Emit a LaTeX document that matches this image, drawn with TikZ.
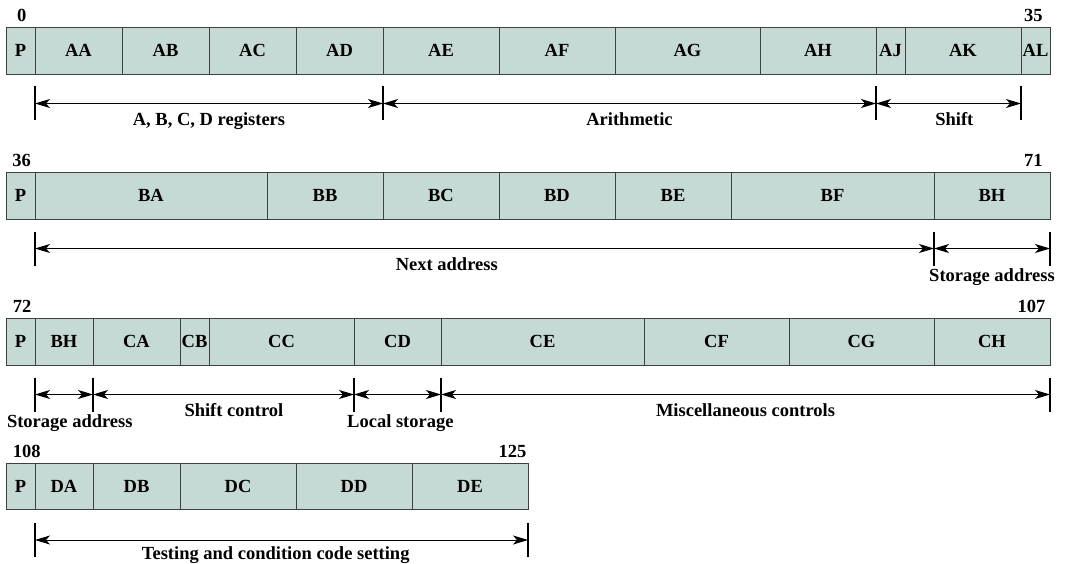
\documentclass[tikz,border=0pt]{standalone}
\usepackage{fontspec}
\setmainfont{Liberation Serif}
\usetikzlibrary{arrows.meta}
\definecolor{fieldfill}{RGB}{197,217,213}
\newcommand{\wordfont}{\fontsize{18.5}{21}\selectfont\bfseries}

\begin{document}
\begin{tikzpicture}[x=29pt, y=-1pt,
    >={Stealth[length=15pt,width=9pt,inset=4pt]},
    field/.style={draw=black!75, line width=0.9pt, fill=fieldfill, inner sep=0pt,
        minimum height=46.5pt, font=\wordfont},
    bitnum/.style={inner sep=0pt, font=\wordfont},
    tickmark/.style={line width=1.7pt},
    span/.style={line width=0.9pt, <->},
    spanlabel/.style={anchor=base, inner sep=0pt, font=\wordfont}]
    \useasboundingbox (-0.2069,0) rectangle (36.5862,564);

    % Word 1: bits 0--35
    \foreach \s/\w/\n in {0/1/P, 1/3/AA, 4/3/AB, 7/3/AC, 10/3/AD, 13/4/AE,
                          17/4/AF, 21/5/AG, 26/4/AH, 30/1/AJ, 31/4/AK, 35/1/AL}
        \node[field, minimum width=\w*29pt] (w1\n) at (\s+\w/2, 50.75) {\n};
    \node[bitnum, anchor=base] (n0) at (0.54, 21.5) {0};
    \node[bitnum, anchor=base east] (n35) at (35.75, 21.5) {35};
    \foreach \b [count=\i] in {1,13,30,35}
        \coordinate (d1-\i) at (\b, 103.5);
    \foreach \i in {1,...,4}
        \draw[tickmark] ([yshift=17pt]d1-\i) -- ([yshift=-17pt]d1-\i);
    \draw[span] (d1-1) -- (d1-2);
    \draw[span] (d1-2) -- (d1-3);
    \draw[span] (d1-3) -- (d1-4);
    \node[spanlabel] (regs) at (7, 125.5) {A, B, C, D registers};
    \node[spanlabel] (arith) at (21.5, 125.5) {Arithmetic};
    \node[spanlabel] (shift) at (32.7, 125.5) {Shift};

    % Word 2: bits 36--71
    \foreach \s/\w/\n in {0/1/P, 1/8/BA, 9/4/BB, 13/4/BC, 17/4/BD, 21/4/BE,
                          25/7/BF, 32/4/BH}
        \node[field, minimum width=\w*29pt] (w2\n) at (\s+\w/2, 195.75) {\n};
    \node[bitnum, anchor=base west] (n36) at (0.21, 166.5) {36};
    \node[bitnum, anchor=base east] (n71) at (35.75, 166.5) {71};
    \foreach \b [count=\i] in {1,32,36}
        \coordinate (d2-\i) at (\b, 248.5);
    \foreach \i in {1,...,3}
        \draw[tickmark] ([yshift=17pt]d2-\i) -- ([yshift=-17pt]d2-\i);
    \draw[span] (d2-1) -- (d2-2);
    \draw[span] (d2-2) -- (d2-3);
    \node[spanlabel] (next) at (15.2, 270.5) {Next address};
    \node[spanlabel] (store1) at (34, 281.5) {Storage address};

    % Word 3: bits 72--107
    \foreach \s/\w/\n in {0/1/P, 1/2/BH, 3/3/CA, 6/1/CB, 7/5/CC, 12/3/CD,
                          15/7/CE, 22/5/CF, 27/5/CG, 32/4/CH}
        \node[field, minimum width=\w*29pt] (w3\n) at (\s+\w/2, 341.75) {\n};
    \node[bitnum, anchor=base west] (n72) at (0.23, 312.5) {72};
    \node[bitnum, anchor=base east] (n107) at (35.85, 312.5) {107};
    \foreach \b [count=\i] in {1,3,12,15,36}
        \coordinate (d3-\i) at (\b, 394.5);
    \foreach \i in {1,...,5}
        \draw[tickmark] ([yshift=17pt]d3-\i) -- ([yshift=-17pt]d3-\i);
    \draw[span] (d3-1) -- (d3-2);
    \draw[span] (d3-2) -- (d3-3);
    \draw[span] (d3-3) -- (d3-4);
    \draw[span] (d3-4) -- (d3-5);
    \node[spanlabel] (store2) at (2.2, 427.5) {Storage address};
    \node[spanlabel] (shiftctl) at (7.86, 416.5) {Shift control};
    \node[spanlabel] (local) at (13.6, 427.5) {Local storage};
    \node[spanlabel] (misc) at (25.5, 416.5) {Miscellaneous controls};

    % Word 4: bits 108--125
    \foreach \s/\w/\n in {0/1/P, 1/2/DA, 3/3/DB, 6/4/DC, 10/4/DD, 14/4/DE}
        \node[field, minimum width=\w*29pt] (w4\n) at (\s+\w/2, 486.25) {\n};
    \node[bitnum, anchor=base west] (n108) at (0.23, 457) {108};
    \node[bitnum, anchor=base east] (n125) at (17.95, 457) {125};
    \coordinate (d4-1) at (1, 540);
    \coordinate (d4-2) at (18, 540);
    \foreach \i in {1,2}
        \draw[tickmark] ([yshift=17pt]d4-\i) -- ([yshift=-17pt]d4-\i);
    \draw[span] (d4-1) -- (d4-2);
    \node[spanlabel] (testing) at (9.3, 559.5) {Testing and condition code setting};
\end{tikzpicture}
\end{document}
